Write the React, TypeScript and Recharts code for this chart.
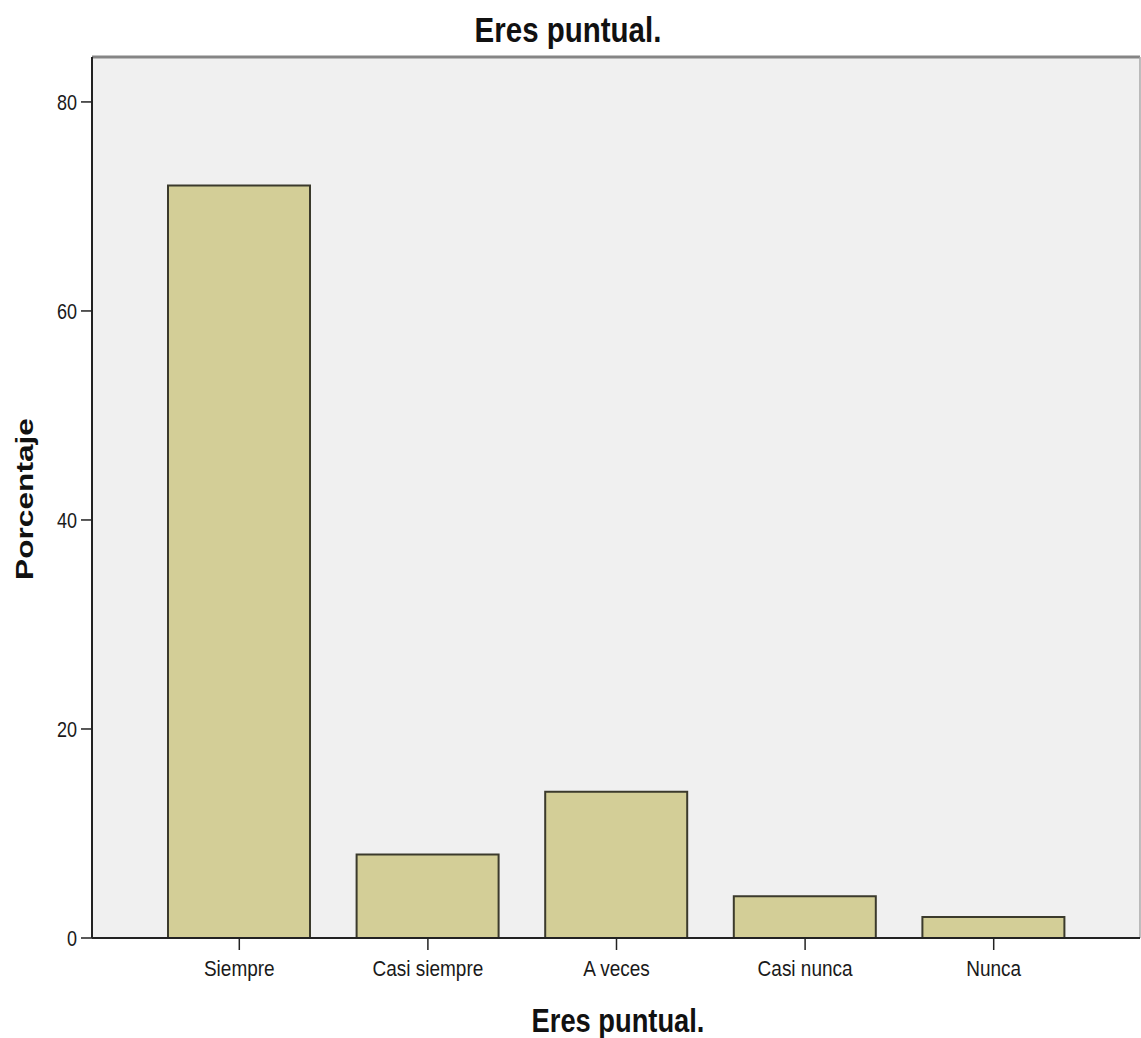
import { BarChart, Bar, XAxis, YAxis, CartesianGrid } from 'recharts';

const categories = ['Siempre', 'Casi siempre', 'A veces', 'Casi nunca', 'Nunca'];
const percentages = [72, 8, 14, 4, 2];
const yTicks = [0, 20, 40, 60, 80];

const chartData = categories.map((name, i) => ({ name, value: percentages[i] }));

const FONT = '"Liberation Sans", Arial, sans-serif';
const TEXT = '#1a1a1a';

// SPSS-style text looks vertically stretched, so scale glyphs a bit
const YTick = ({ x, y, payload }: any) => (
    <g transform={`translate(${x},${y}) scale(1,1.2)`}>
        <text textAnchor="end" dy="0.35em" fontSize={18} fontFamily={FONT} fill={TEXT}>
            {payload.value}
        </text>
    </g>
);

const XTick = ({ x, y, payload }: any) => (
    <g transform={`translate(${x},${y}) scale(1,1.2)`}>
        <text textAnchor="middle" dy="0.71em" fontSize={19} fontFamily={FONT} fill={TEXT}>
            {payload.value}
        </text>
    </g>
);

export default function App() {
    return (
        <div style={{ position: 'absolute', left: 0, top: 0, width: 1141, height: 1038, background: '#fff' }}>
            <BarChart
                width={1141}
                height={1038}
                data={chartData}
                margin={{ top: 57, right: 1, bottom: 70, left: 32 }}
            >
                <CartesianGrid horizontal={false} vertical={false} fill="#f0f0f0" />
                {/* frame: top edge (darker) and right edge (lighter) */}
                <CartesianGrid
                    vertical={false}
                    horizontalCoordinatesGenerator={({ offset }: any) => [offset.top]}
                    stroke="#858585"
                    strokeWidth={3}
                />
                <CartesianGrid
                    horizontal={false}
                    verticalCoordinatesGenerator={({ offset }: any) => [offset.left + offset.width]}
                    stroke="#a8a8a8"
                    strokeWidth={1.5}
                />
                <XAxis
                    dataKey="name"
                    padding={{ left: 53, right: 52 }}
                    height={30}
                    tickSize={12}
                    tickMargin={10}
                    tick={<XTick />}
                    axisLine={{ stroke: '#222', strokeWidth: 2 }}
                    tickLine={{ stroke: '#222', strokeWidth: 1.5 }}
                />
                <YAxis
                    type="number"
                    domain={[0, 84.3]}
                    ticks={yTicks}
                    width={60}
                    tickSize={11}
                    tickMargin={4}
                    tick={<YTick />}
                    axisLine={{ stroke: '#222', strokeWidth: 2 }}
                    tickLine={{ stroke: '#222', strokeWidth: 1.5 }}
                />
                <Bar
                    dataKey="value"
                    barSize={142}
                    fill="#d3ce97"
                    stroke="#3b3a2c"
                    strokeWidth={2}
                    isAnimationActive={false}
                />
                <g transform="translate(568,42) scale(1,1.18)">
                    <text textAnchor="middle" fontSize={29.5} fontWeight="bold" fontFamily={FONT} fill="#111">
                        Eres puntual.
                    </text>
                </g>
                <g transform="translate(618,1032) scale(1,1.23)">
                    <text textAnchor="middle" fontSize={27.3} fontWeight="bold" fontFamily={FONT} fill="#111">
                        Eres puntual.
                    </text>
                </g>
                <g transform="translate(25,499) rotate(-90) scale(1.32,1)">
                    <text textAnchor="middle" dominantBaseline="central" fontSize={24} fontWeight="bold" fontFamily={FONT} fill="#111">
                        Porcentaje
                    </text>
                </g>
            </BarChart>
        </div>
    );
}
